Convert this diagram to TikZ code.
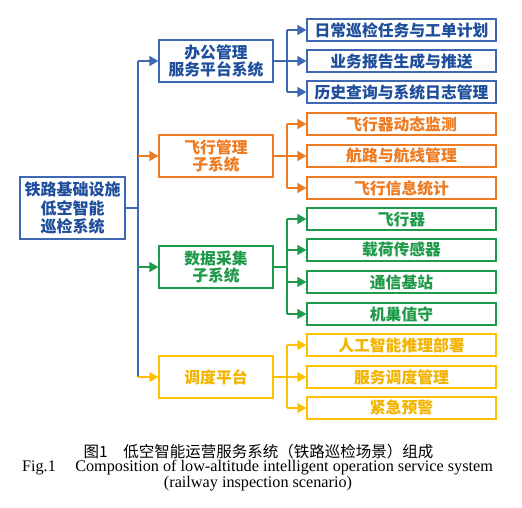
\documentclass[tikz,border=0pt]{standalone}
\usepackage{fontspec}
\setmainfont{Liberation Serif}
\newfontfamily\cjk{Noto Sans CJK SC}
\usetikzlibrary{arrows.meta}
\definecolor{cblue}{HTML}{1F4E9C}
\definecolor{cbline}{HTML}{3F68B4}
\definecolor{corange}{HTML}{EE7B22}
\definecolor{cgreen}{HTML}{1E9A4A}
\definecolor{cyellow}{HTML}{FFC000}
\definecolor{cytext}{HTML}{F2B400}
\tikzset{
  box/.style={draw, line width=1.3pt, fill=white, inner sep=0pt, align=center, font=\cjk\bfseries\fontsize{15.8}{17.5}\selectfont},
  rootbox/.style={box, draw=cbline, text=cblue, minimum width=105pt, minimum height=62pt, font=\cjk\bfseries\fontsize{16}{18.5}\selectfont},
  lone/.style={box, minimum width=114pt, minimum height=42pt},
  ltwo/.style={box, minimum width=189pt, minimum height=22pt},
  conn/.style={line width=1.3pt},
  arr/.style={conn, -{Triangle[length=9pt,width=10pt]}},
  bl/.style={draw=cbline, text=cblue},
  orr/.style={draw=corange, text=corange},
  gr/.style={draw=cgreen, text=cgreen},
  ye/.style={draw=cyellow, text=cytext},
}
\begin{document}
\begin{tikzpicture}[x=1pt,y=-1pt]
\useasboundingbox (0,0) rectangle (522,508);
% root
\node[rootbox] (r) at (72.5,208) {铁路基础设施\\低空智能\\巡检系统};
% level one
\node[lone,bl] (a) at (216,61) {办公管理\\服务平台系统};
\node[lone,orr] (b) at (216,156) {飞行管理\\子系统};
\node[lone,gr] (c) at (216,267) {数据采集\\子系统};
\node[lone,ye] (d) at (216,377) {调度平台};
% level two
\node[ltwo,bl] (a1) at (401.5,30) {日常巡检任务与工单计划};
\node[ltwo,bl] (a2) at (401.5,61) {业务报告生成与推送};
\node[ltwo,bl] (a3) at (401.5,92) {历史查询与系统日志管理};
\node[ltwo,orr] (b1) at (401.5,124) {飞行器动态监测};
\node[ltwo,orr] (b2) at (401.5,156) {航路与航线管理};
\node[ltwo,orr] (b3) at (401.5,188) {飞行信息统计};
\node[ltwo,gr] (c1) at (401.5,219) {飞行器};
\node[ltwo,gr] (c2) at (401.5,250) {载荷传感器};
\node[ltwo,gr] (c3) at (401.5,282) {通信基站};
\node[ltwo,gr] (c4) at (401.5,314) {机巢值守};
\node[ltwo,ye] (d1) at (401.5,345) {人工智能推理部署};
\node[ltwo,ye] (d2) at (401.5,377) {服务调度管理};
\node[ltwo,ye] (d3) at (401.5,408) {紧急预警};
% trunk
\coordinate (tx) at (138,0);
\coordinate (bx) at (287,0);
\draw[conn,cbline] (r.east) -- (tx |- r.east);
\draw[conn,cbline] (tx |- a.west) -- (tx |- d.west);
\draw[arr,cbline] (tx |- a.west) -- (a.west);
\draw[arr,corange] (tx |- b.west) -- (b.west);
\draw[arr,cgreen] (tx |- c.west) -- (c.west);
\draw[arr,cyellow] (tx |- d.west) -- (d.west);
% blue branch
\draw[conn,cbline] (a.east) -- (bx |- a.east);
\draw[conn,cbline] (bx |- a1.west) -- (bx |- a3.west);
\foreach \n in {a1,a2,a3} \draw[arr,cbline] (bx |- \n.west) -- (\n.west);
% orange branch
\draw[conn,corange] (b.east) -- (bx |- b.east);
\draw[conn,corange] (bx |- b1.west) -- (bx |- b3.west);
\foreach \n in {b1,b2,b3} \draw[arr,corange] (bx |- \n.west) -- (\n.west);
% green branch
\draw[conn,cgreen] (c.east) -- (bx |- c.east);
\draw[conn,cgreen] (bx |- c1.west) -- (bx |- c4.west);
\foreach \n in {c1,c2,c3,c4} \draw[arr,cgreen] (bx |- \n.west) -- (\n.west);
% yellow branch
\draw[conn,cyellow] (d.east) -- (bx |- d.east);
\draw[conn,cyellow] (bx |- d1.west) -- (bx |- d3.west);
\foreach \n in {d1,d2,d3} \draw[arr,cyellow] (bx |- \n.west) -- (\n.west);
% caption
\node[font=\cjk\fontsize{15.5}{17}\selectfont, inner sep=0pt] (cap1) at (258.5,452) {图1\hspace{1em}低空智能运营服务系统（铁路巡检场景）组成};
\node[font=\fontsize{16.2}{18}\selectfont, inner sep=0pt] (cap2) at (257.5,468) {Fig.1\hspace{1.2em}Composition of low-altitude intelligent operation service system};
\node[font=\fontsize{16.2}{18}\selectfont, inner sep=0pt] (cap3) at (258,484) {(railway inspection scenario)};
\end{tikzpicture}
\end{document}
